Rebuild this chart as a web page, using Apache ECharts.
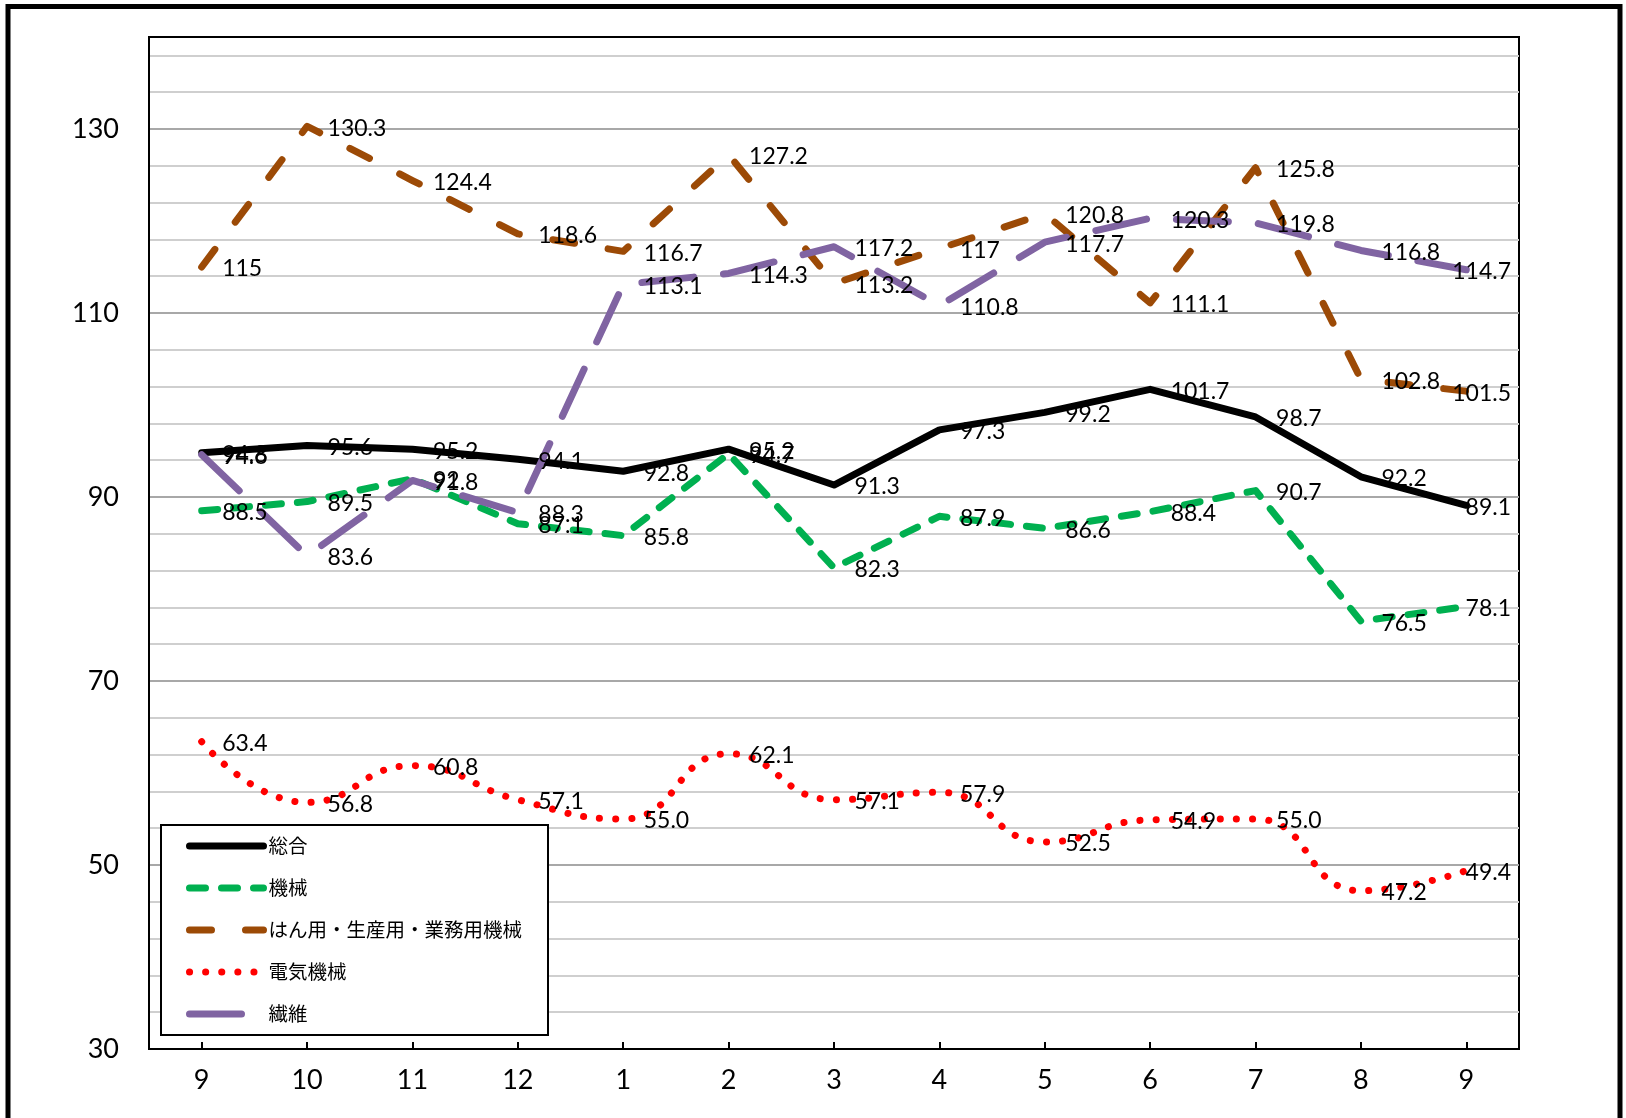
<!DOCTYPE html>
<html>
<head>
<meta charset="utf-8">
<script src="https://cdn.jsdelivr.net/npm/echarts@6/dist/echarts.min.js"></script>
<style>
html,body{margin:0;padding:0;background:#fff;}
#chart{width:1626px;height:1118px;}
</style>
</head>
<body>
<div id="chart"></div>
<script>
var categories = ['9','10','11','12','1','2','3','4','5','6','7','8','9'];
var seriesNames = ['総合','機械','はん用・生産用・業務用機械','電気機械','繊維'];
var sogo    = [94.8, 95.6, 95.2, 94.1, 92.8, 95.2, 91.3, 97.3, 99.2, 101.7, 98.7, 92.2, 89.1];
var kikai   = [88.5, 89.5, 92, 87.1, 85.8, 94.7, 82.3, 87.9, 86.6, 88.4, 90.7, 76.5, 78.1];
var hanyo   = [115, 130.3, 124.4, 118.6, 116.7, 127.2, 113.2, 117, 120.8, 111.1, 125.8, 102.8, 101.5];
var denki   = [63.4, 56.8, 60.8, 57.1, 55.0, 62.1, 57.1, 57.9, 52.5, 54.9, 55.0, 47.2, 49.4];
var seni    = [94.6, 83.6, 91.8, 88.3, 113.1, 114.3, 117.2, 110.8, 117.7, 120.3, 119.8, 116.8, 114.7];
var yMin = 30, yMax = 140, yLabelStep = 20;

var chart = echarts.init(document.getElementById('chart'));
var numFont = 'Lato, "Open Sans", sans-serif';
var gridRight = 107;
var labelEdge = 1626 - gridRight - 8;

function mkLabel(fmt) {
  return {
    show: true, position: 'right', distance: 20, offset: [0, 2],
    fontSize: 23, color: '#000', fontFamily: numFont,
    formatter: fmt
  };
}
var plainFmt = function (p) { return String(p.value); };
var fixedFmt = function (p) { return p.value.toFixed(1); };

// gridline colors cycle per 2-unit tick: major every 20, minor every 4
var gridColors = [];
for (var i = 0; i < 10; i++) {
  if (i === 0) gridColors.push('#a8a8a8');
  else if (i % 2 === 0) gridColors.push('#cfcfcf');
  else gridColors.push('rgba(0,0,0,0)');
}

// keep the last point's label inside the plot area
function lastInside(params) {
  if (params.dataIndex === categories.length - 1) {
    return { x: labelEdge - params.labelRect.width, y: params.labelRect.y };
  }
  return { x: params.labelRect.x, y: params.labelRect.y };
}

function mkSeries(idx, data, color, width, type, smooth, fmt) {
  return {
    name: seriesNames[idx], type: 'line', data: data,
    symbol: 'circle', symbolSize: 1, showSymbol: true, smooth: smooth,
    lineStyle: { color: color, width: width, type: type, cap: 'round', join: 'round' },
    itemStyle: { color: 'rgba(0,0,0,0)' },
    label: mkLabel(fmt),
    labelLayout: lastInside
  };
}

var option = {
  backgroundColor: '#fff',
  animation: false,
  graphic: [{
    type: 'rect', z: 100, silent: true,
    shape: { x: 8, y: 6.5, width: 1612, height: 1300 },
    style: { fill: 'none', stroke: '#000', lineWidth: 5 }
  }],
  grid: {
    left: 149, right: gridRight, top: 37, bottom: 69,
    show: true, borderColor: '#000', borderWidth: 2, backgroundColor: 'transparent'
  },
  legend: {
    orient: 'vertical', left: 161, top: 825,
    padding: [10, 26, 10, 25],
    itemWidth: 74, itemHeight: 22, itemGap: 20,
    backgroundColor: '#fff', borderColor: '#000', borderWidth: 2,
    itemStyle: { opacity: 0 },
    lineStyle: { width: 'inherit', type: 'inherit', cap: 'round' },
    textStyle: { fontSize: 19.5, lineHeight: 22, color: '#000', fontFamily: '"Noto Sans CJK JP", sans-serif' },
    data: seriesNames
  },
  xAxis: {
    type: 'category', data: categories, boundaryGap: true,
    axisLine: { show: true, lineStyle: { color: '#000', width: 2 } },
    axisTick: { show: true, alignWithLabel: true, inside: true, length: 7, lineStyle: { color: '#000', width: 2 } },
    axisLabel: { fontSize: 27, color: '#000', margin: 18, fontFamily: numFont },
    splitLine: { show: false }
  },
  yAxis: {
    type: 'value', min: yMin, max: yMax, interval: 2,
    axisLine: { show: true, lineStyle: { color: '#000', width: 2 } },
    axisTick: { show: false },
    axisLabel: {
      fontSize: 27, color: '#000', margin: 30, fontFamily: numFont,
      formatter: function (v) { return ((v - yMin) % yLabelStep === 0) ? String(v) : ''; }
    },
    splitLine: { show: true, lineStyle: { color: gridColors, width: 2 } }
  },
  series: [
    mkSeries(0, sogo,  '#000000', 7, 'solid',   false, plainFmt),
    mkSeries(1, kikai, '#00b050', 7, [16, 16],  false, plainFmt),
    mkSeries(2, hanyo, '#9c4a06', 7, [22, 34],  false, plainFmt),
    mkSeries(3, denki, '#ff0000', 7, [0.1, 16], 0.5,   fixedFmt),
    mkSeries(4, seni,  '#8064a2', 7, [52, 30],  false, plainFmt)
  ]
};
chart.setOption(option);
</script>
</body>
</html>
